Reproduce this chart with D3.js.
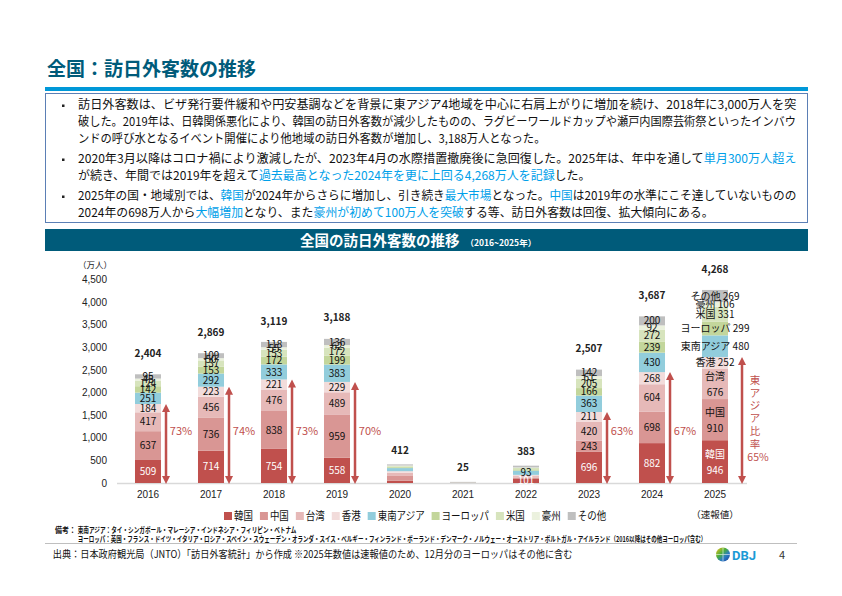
<!DOCTYPE html>
<html lang="ja">
<head>
<meta charset="utf-8">
<script src="https://cdn.jsdelivr.net/npm/d3@7"></script>
<style>
  body { margin: 0; background: #fff; }
  svg { display: block; font-family: "Noto Sans CJK JP", "Noto Sans", sans-serif; }
</style>
</head>
<body>
<svg id="chart" width="842" height="596"></svg>
<script>
// data (万人)
const years = ['2016', '2017', '2018', '2019', '2020', '2021', '2022', '2023', '2024', '2025'];
const regions = ['韓国', '中国', '台湾', '香港', '東南アジア', 'ヨーロッパ', '米国', '豪州', 'その他'];
const korea     = [509, 714, 754, 558, 49, 2, 101, 696, 882, 946];
const china     = [637, 736, 838, 959, 107, 4, 19, 243, 698, 910];
const taiwan    = [417, 456, 476, 489, 70, 1, 33, 420, 604, 676];
const hongkong  = [184, 223, 221, 229, 35, 0, 27, 211, 268, 252];
const seAsia    = [251, 292, 333, 383, 69, 4, 93, 363, 430, 480];
const europe    = [142, 153, 172, 199, 20, 2, 30, 166, 239, 299];
const usa       = [124, 137, 153, 172, 22, 2, 32, 205, 272, 331];
const australia = [45, 50, 55, 62, 14, 0, 9, 61, 92, 106];
const others    = [95, 109, 118, 136, 26, 10, 39, 142, 200, 269];
const totals    = [2404, 2869, 3119, 3188, 412, 25, 383, 2507, 3687, 4268];
const yTicks = [0, 500, 1000, 1500, 2000, 2500, 3000, 3500, 4000, 4500];

const colors = ['#c0504d', '#d99694', '#e6b9b8', '#f2dcdb', '#92cddc', '#c3d69b', '#d7e4bd', '#ebf1de', '#bfbfbf'];
const teal = '#005b7a';
const red = '#c0504d';
const blue = '#00a0e9';

const svg = d3.select('#chart');

// ---- header
svg.append('text').attr('x', 47).attr('y', 76)
    .attr('font-size', 19).attr('font-weight', 'bold').attr('fill', teal)
    .text('全国：訪日外客数の推移');
svg.append('rect').attr('x', 45).attr('y', 87).attr('width', 763).attr('height', 4).attr('fill', '#0098d8');
svg.append('rect').attr('x', 45.5).attr('y', 93.5).attr('width', 762).attr('height', 129)
    .attr('fill', 'none').attr('stroke', '#5b7fb5').attr('stroke-width', 1);

// summary text, one entry per line: [segments, line centre, width]
const lines = [
    [[['訪日外客数は、ビザ発行要件緩和や円安基調などを背景に東アジア4地域を中心に右肩上がりに増加を続け、2018年に3,000万人を突', 0]], 105, 719, true],
    [[['破した。2019年は、日韓関係悪化により、韓国の訪日外客数が減少したものの、ラグビーワールドカップや瀬戸内国際芸術祭といったインバウ', 0]], 121.7, 719],
    [[['ンドの呼び水となるイベント開催により他地域の訪日外客数が増加し、3,188万人となった。', 0]], 138.3, 468],
    [[['2020年3月以降はコロナ禍により激減したが、2023年4月の水際措置撤廃後に急回復した。2025年は、年中を通して', 0], ['単月300万人超え', 1]], 159, 719, true],
    [[['が続き、年間では2019年を超えて', 0], ['過去最高となった2024年を更に上回る4,268万人を記録', 1], ['した。', 0]], 175.7, 513],
    [[['2025年の国・地域別では、', 0], ['韓国', 1], ['が2024年からさらに増加し、引き続き', 0], ['最大市場', 1], ['となった。', 0], ['中国', 1], ['は2019年の水準にこそ達していないものの', 0]], 196, 719, true],
    [[['2024年の698万人から', 0], ['大幅増加', 1], ['となり、また', 0], ['豪州が初めて100万人を突破', 1], ['する等、訪日外客数は回復、拡大傾向にある。', 0]], 212.7, 636]
];

lines.forEach(([segs, cy, w, bullet]) => {
    if (bullet) {
        svg.append('rect').attr('x', 62).attr('y', cy - 0.5).attr('width', 2.5).attr('height', 2.5).attr('fill', '#222');
    }
    const t = svg.append('text').attr('font-size', 12).attr('fill', '#111');
    segs.forEach(([s, hi]) => t.append('tspan').attr('fill', hi ? blue : '#111').text(s));
    const k = w / t.node().getComputedTextLength();
    t.attr('transform', `translate(78,${cy + 4.2}) scale(${k},1)`);
});

// chart title bar
svg.append('rect').attr('x', 45).attr('y', 229).attr('width', 763).attr('height', 22).attr('fill', teal);
const ct = svg.append('text').attr('x', 300).attr('y', 245.5).attr('fill', '#fff').attr('font-weight', 'bold');
ct.append('tspan').attr('font-size', 14.5).text('全国の訪日外客数の推移');
ct.append('tspan').attr('font-size', 8.5).attr('dx', 6).text('（2016~2025年）');

// ---- chart
const series = [korea, china, taiwan, hongkong, seAsia, europe, usa, australia, others];
const rows = years.map((yr, i) => {
    const r = { year: yr, total: totals[i] };
    regions.forEach((k, j) => { r[k] = series[j][i]; });
    return r;
});
const stacked = d3.stack().keys(regions)(rows);

const x = d3.scaleBand().domain(years).range([116.5, 746.5]).paddingInner(0.587).paddingOuter(0.2935);
const y = d3.scaleLinear().domain([0, 4500]).range([483, 279.5]);

svg.append('text').attr('x', 95).attr('y', 268).attr('text-anchor', 'middle')
    .attr('font-size', 8.5).attr('fill', '#222').text('（万人）');

const yAxis = svg.append('g').attr('transform', 'translate(107,0)')
    .call(d3.axisLeft(y).tickValues(yTicks).tickFormat(d3.format(',')).tickSize(0).tickPadding(0));
yAxis.select('.domain').remove();
yAxis.selectAll('text').attr('font-size', 10).attr('fill', '#222').attr('font-family', null);

const xAxis = svg.append('g').attr('transform', `translate(0,${y(0)})`)
    .call(d3.axisBottom(x).tickSize(0).tickPadding(8));
xAxis.select('.domain').attr('stroke', '#d9d9d9').attr('stroke-width', 1.5);
xAxis.selectAll('text').attr('font-size', 10).attr('fill', '#222').attr('font-family', null);
svg.append('text').attr('x', x('2025') + x.bandwidth() / 2).attr('y', 518).attr('text-anchor', 'middle')
    .attr('font-size', 9.5).attr('fill', '#222').text('（速報値）');

// bars
const layer = svg.selectAll('g.layer').data(stacked).join('g').attr('class', 'layer')
    .attr('fill', (d, i) => colors[i]);
layer.selectAll('rect').data(d => d).join('rect')
    .attr('x', d => x(d.data.year))
    .attr('width', x.bandwidth())
    .attr('y', d => y(d[1]))
    .attr('height', d => y(d[0]) - y(d[1]));

// segment labels
const skipYears = ['2020', '2021'];
const sparse = { '2022': ['韓国', '東南アジア'] };
const twoLine = ['韓国', '中国', '台湾'];
stacked.forEach((s, j) => {
    s.forEach(d => {
        const yr = d.data.year;
        if (skipYears.includes(yr)) return;
        if (sparse[yr] && !sparse[yr].includes(s.key)) return;
        const cx = x(yr) + x.bandwidth() / 2;
        const cy = (y(d[0]) + y(d[1])) / 2;
        const v = d.data[s.key];
        const t = svg.append('text').attr('text-anchor', 'middle').attr('font-size', 10)
            .attr('fill', j === 0 ? '#fff' : '#111');
        if (yr === '2025') {
            if (twoLine.includes(s.key)) {
                t.append('tspan').attr('x', cx).attr('y', cy - 3.5).text(s.key);
                t.append('tspan').attr('x', cx).attr('y', cy + 12).text(v);
            } else {
                t.attr('x', cx).attr('y', cy + 3.6).text(`${s.key} ${v}`);
            }
        } else {
            t.attr('x', cx).attr('y', cy + 3.6).text(v);
        }
    });
});

// totals
svg.selectAll('text.total').data(rows).join('text').attr('class', 'total')
    .attr('x', d => x(d.year) + x.bandwidth() / 2)
    .attr('y', d => y(d.total) - (d.total > 1000 ? 21 : 14) + 3.6)
    .attr('text-anchor', 'middle').attr('font-size', 10).attr('font-weight', 'bold').attr('fill', '#222')
    .text(d => d3.format(',')(d.total));

// East Asia share arrows
const eastAsia = rows.map(r => r['韓国'] + r['中国'] + r['台湾'] + r['香港']);
rows.forEach((r, i) => {
    if (r.total < 1000) return;
    const last = r.year === '2025';
    const ax = x(r.year) + x.bandwidth() + (last ? 14 : 5);
    const top = y(eastAsia[i]);
    const bot = y(0) + 1;
    svg.append('line').attr('x1', ax).attr('x2', ax).attr('y1', top + 6).attr('y2', bot - 6)
        .attr('stroke', red).attr('stroke-width', 2.5);
    svg.append('path').attr('fill', red)
        .attr('d', `M${ax},${top} l4,8 h-8 Z M${ax},${bot} l4,-8 h-8 Z`);
    const pct = d3.format('.0%')(eastAsia[i] / r.total);
    if (!last) {
        svg.append('text').attr('x', x(r.year) + x.bandwidth() / 2 + 33).attr('y', 435)
            .attr('text-anchor', 'middle').attr('font-size', 11).attr('fill', red).text(pct);
    } else {
        '東アジア比率'.split('').forEach((c, k) => {
            svg.append('text').attr('x', ax + 13).attr('y', 384 + k * 12.7)
                .attr('text-anchor', 'middle').attr('font-size', 10.5).attr('fill', red).text(c);
        });
        svg.append('text').attr('x', ax + 16).attr('y', 461)
            .attr('text-anchor', 'middle').attr('font-size', 10.5).attr('fill', red).text(pct);
    }
});

// legend
let lx = 224;
regions.forEach((k, i) => {
    svg.append('rect').attr('x', lx).attr('y', 512).attr('width', 8).attr('height', 8).attr('fill', colors[i]);
    const t = svg.append('text').attr('x', lx + 10).attr('y', 520).attr('font-size', 11).attr('fill', '#111').text(k);
    lx += 10 + t.node().getComputedTextLength() * 0.86 + 7;
    t.attr('textLength', t.node().getComputedTextLength() * 0.86).attr('lengthAdjust', 'spacingAndGlyphs');
});

// notes and source
function fitText(txt, x0, yb, w, size, weight) {
    const t = svg.append('text').attr('font-size', size).attr('fill', '#111')
        .attr('font-weight', weight || 'normal').text(txt);
    const k = w / t.node().getComputedTextLength();
    t.attr('transform', `translate(${x0},${yb}) scale(${k},1)`);
}
fitText('備考：', 55, 532.5, 21, 7.5, 'bold');
fitText('東南アジア：タイ・シンガポール・マレーシア・インドネシア・フィリピン・ベトナム', 77.7, 532.5, 219, 7.5, 'bold');
fitText('ヨーロッパ：英国・フランス・ドイツ・イタリア・ロシア・スペイン・スウェーデン・オランダ・スイス・ベルギー・フィンランド・ポーランド・デンマーク・ノルウェー・オーストリア・ポルトガル・アイルランド（2016以降はその他ヨーロッパ含む）', 77.7, 541.5, 629, 7.5, 'bold');

svg.append('line').attr('x1', 45).attr('x2', 797).attr('y1', 543.5).attr('y2', 543.5)
    .attr('stroke', '#bfbfbf').attr('stroke-width', 1);
fitText('出典：日本政府観光局（JNTO）「訪日外客統計」から作成 ※2025年数値は速報値のため、12月分のヨーロッパはその他に含む', 52.7, 558, 520, 10.5);

// logo and page number
const defs = svg.append('defs');
const lg = defs.append('linearGradient').attr('id', 'globe').attr('x1', 0).attr('y1', 0).attr('x2', 1).attr('y2', 1);
lg.append('stop').attr('offset', '0%').attr('stop-color', '#f6c21a');
lg.append('stop').attr('offset', '40%').attr('stop-color', '#49ad3c');
lg.append('stop').attr('offset', '65%').attr('stop-color', '#2a7cc4');
lg.append('stop').attr('offset', '100%').attr('stop-color', '#1c3f95');
svg.append('circle').attr('cx', 723).attr('cy', 554.5).attr('r', 7).attr('fill', 'url(#globe)');
svg.append('path').attr('d', 'M716,554.5 H730 M723,547.5 V561.5').attr('stroke', '#fff').attr('stroke-width', 0.8).attr('opacity', 0.7);
svg.append('text').attr('x', 732).attr('y', 559.5).attr('font-size', 13).attr('font-weight', 'bold')
    .attr('fill', '#1b9ad6').attr('font-family', 'Roboto, sans-serif').text('DBJ');
svg.append('text').attr('x', 782).attr('y', 559).attr('text-anchor', 'middle').attr('font-size', 11)
    .attr('fill', '#333').text('4');
</script>
</body>
</html>
